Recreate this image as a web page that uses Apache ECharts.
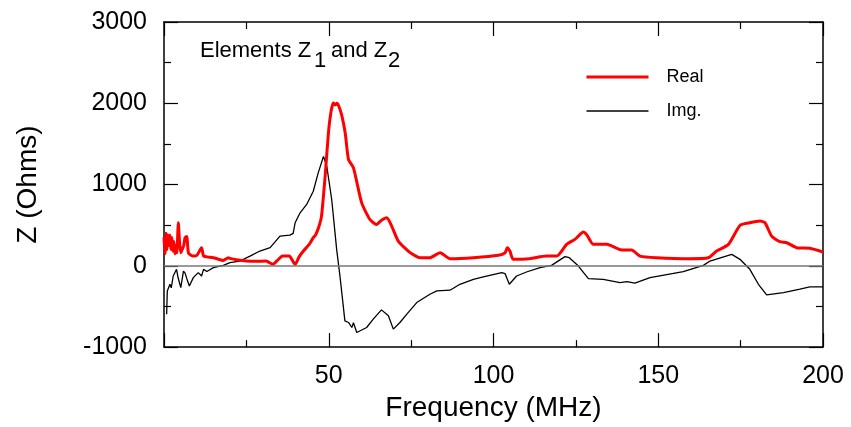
<!DOCTYPE html>
<html>
<head>
<meta charset="utf-8">
<script src="https://cdn.jsdelivr.net/npm/echarts@6/dist/echarts.min.js"></script>
<style>
  html, body { margin: 0; padding: 0; background: #fff; }
  #chart { width: 851px; height: 427px; }
</style>
</head>
<body>
<div id="chart"></div>
<script>
// Real part (MHz, Ohms)
var realFreq = [0, 0.3, 0.6, 0.9, 1.2, 1.5, 1.8, 2.1, 2.4, 2.7, 3.0, 3.3, 3.6, 3.9, 4.35, 4.7, 5.1, 5.5, 6.0, 6.4, 6.9, 7.4, 8.2, 8.9,
  10, 11.4, 12, 13, 15, 18, 19.5, 20, 22, 25, 28, 31, 33, 34.5, 36, 38, 39.8, 41, 42.3, 44, 45.3, 46, 47, 47.8, 48.9, 49.9,
  50.7, 51.4, 52, 52.5, 53, 53.9, 55, 56, 57.5, 60, 62.5, 64.5, 66, 67.6, 69.1, 71.1, 74.7, 77.7, 80.7, 83.8, 86.8, 93.9,
  101.5, 103.5, 104.2, 105, 106, 111, 116.1, 119.2, 122.2, 124.7, 127.3, 128.5, 130.3, 134.4, 138.9, 141.9, 144.5, 149.5,
  159.6, 165.2, 167.7, 171.3, 174.8, 177.8, 180.9, 182.4, 184.4, 186.9, 189, 192, 196, 200];
var realZ = [350, 150, 400, 200, 380, 250, 380, 200, 350, 180, 300, 150, 250, 160, 530, 300, 160, 200, 250, 350, 360, 160, 130, 120,
  130, 223, 120, 110, 100, 67, 100, 92, 75, 59, 55, 59, 18, 70, 120, 120, 18, 110, 182, 260, 346, 380, 480, 611, 1102, 1634,
  1900, 2002, 1980, 2000, 1970, 1860, 1634, 1307, 1205, 775, 570, 509, 560, 591, 489, 304, 162, 100, 100, 162, 88, 100,
  129, 160, 223, 180, 80, 88, 120, 120, 264, 325, 415, 370, 264, 264, 194, 194, 120, 100,
  88, 100, 182, 264, 497, 530, 550, 530, 366, 297, 284, 223, 215, 170];

// Imaginary part (MHz, Ohms)
var imgFreq = [0.8, 1.0, 1.8, 2.2, 2.8, 3.8, 4.3, 5.1, 5.9, 6.4, 6.9, 7.7, 8.9, 10.4, 11.4, 12, 13, 15, 18, 20, 23, 26.1, 29.1,
  32.2, 35.2, 38.2, 39.2, 39.8, 41.3, 43.3, 45.3, 46.8, 48.4, 49.4, 50.9, 52.4, 53.4, 54.9, 56, 57, 57.5, 58.5, 61.5, 63.5,
  66, 68.1, 69.6, 71.6, 73.7, 76.7, 80.7, 82.8, 86.8, 89.8, 93.9, 96.9, 102.5, 103.5, 104.8, 107, 110, 114.1, 117.6, 121.7,
  123, 125.7, 128.8, 133.3, 138.4, 140.5, 142.9, 147.5, 157.6, 163.7, 165.7, 172.3, 174.8, 177.8, 180.4, 182.9, 188, 193,
  196, 200];
var imgZ = [-595, -309, -227, -270, -125, -43, -150, -268, -64, -90, -155, -248, -145, -84, -125, -43, -70, -22, 5, 39, 59, 120, 182,
  223, 366, 378, 400, 530, 652, 755, 918, 1144, 1347, 1225, 816, 202, -125, -677, -697, -759, -700, -820, -759, -656,
  -542, -615, -779, -697, -595, -452, -350, -309, -300, -227, -166, -137, -84, -95, -227, -125, -76, -22, 6, 113,
  100, 0, -157, -166, -206, -195, -213, -145, -71, 6, 59, 141, 80, -43, -227, -358, -330, -288,
  -260, -260];

var font = 'Liberation Sans, Arial, sans-serif';

function pairs(xs, ys) {
  var out = [];
  for (var i = 0; i < xs.length; i++) out.push([xs[i], ys[i]]);
  return out;
}

var chart = echarts.init(document.getElementById('chart'));

var baseX = {
  type: 'value', min: 0, max: 200, interval: 50,
  axisLine: { show: true, onZero: false, lineStyle: { color: '#000', width: 1.5 } },
  axisTick: { show: true, inside: true, length: 14, lineStyle: { color: '#000', width: 1.2 } },
  minorTick: { show: true, splitNumber: 2, length: 7, lineStyle: { color: '#000', width: 1.2 } },
  splitLine: { show: false }
};
var baseY = {
  type: 'value', min: -1000, max: 3000, interval: 1000,
  axisLine: { show: true, onZero: false, lineStyle: { color: '#000', width: 1.5 } },
  axisTick: { show: true, inside: true, length: 14, lineStyle: { color: '#000', width: 1.2 } },
  minorTick: { show: true, splitNumber: 2, length: 7, lineStyle: { color: '#000', width: 1.2 } },
  splitLine: { show: false }
};

var option = {
  animation: false,
  textStyle: { fontFamily: font },
  grid: { left: 164, right: 28, top: 22, bottom: 79 },
  legend: {
    orient: 'vertical',
    left: 580, top: 63,
    itemWidth: 62, itemHeight: 14, itemGap: 16,
    itemStyle: { opacity: 0 },
    textStyle: { fontSize: 18, color: '#000', fontFamily: font, padding: [0, 0, 0, 13] },
    data: [
      { name: 'Real', lineStyle: { width: 3 } },
      { name: 'Img.', lineStyle: { width: 1.5 } }
    ]
  },
  xAxis: [
    Object.assign({}, baseX, {
      position: 'bottom',
      axisLabel: {
        fontSize: 25, color: '#000', margin: 17, fontFamily: font,
        formatter: function (v) { return v === 0 ? '' : String(v); }
      },
      name: 'Frequency (MHz)', nameLocation: 'middle', nameGap: 36,
      nameTextStyle: { fontSize: 28, color: '#000', fontFamily: font }
    }),
    Object.assign({}, baseX, { position: 'top', axisLabel: { show: false } })
  ],
  yAxis: [
    Object.assign({}, baseY, {
      position: 'left',
      axisLabel: {
        fontSize: 25, color: '#000', margin: 17, fontFamily: font,
        formatter: function (v) { return String(v); }
      },
      name: 'Z (Ohms)', nameLocation: 'middle', nameGap: 122,
      nameTextStyle: { fontSize: 28, color: '#000', fontFamily: font }
    }),
    Object.assign({}, baseY, { position: 'right', axisLabel: { show: false } })
  ],
  graphic: [
    { type: 'text', x: 200, y: 40, style: { text: 'Elements Z', font: '22px ' + font, fill: '#000' } },
    { type: 'text', x: 314, y: 50, style: { text: '1', font: '22px ' + font, fill: '#000' } },
    { type: 'text', x: 331, y: 40, style: { text: 'and Z', font: '22px ' + font, fill: '#000' } },
    { type: 'text', x: 388, y: 50, style: { text: '2', font: '22px ' + font, fill: '#000' } }
  ],
  series: [
    {
      name: 'Img.', type: 'line', symbol: 'none', z: 3,
      data: pairs(imgFreq, imgZ),
      lineStyle: { color: '#000', width: 1.3 },
      itemStyle: { color: '#000' },
      markLine: {
        silent: true, symbol: 'none', label: { show: false },
        lineStyle: { color: '#777', type: 'solid', width: 1.5 },
        data: [{ yAxis: 0 }]
      }
    },
    {
      name: 'Real', type: 'line', symbol: 'none', z: 4, smooth: 0.2,
      data: pairs(realFreq, realZ),
      lineStyle: { color: '#ff0000', width: 3 },
      itemStyle: { color: '#ff0000' }
    }
  ]
};
chart.setOption(option);
</script>
</body>
</html>
